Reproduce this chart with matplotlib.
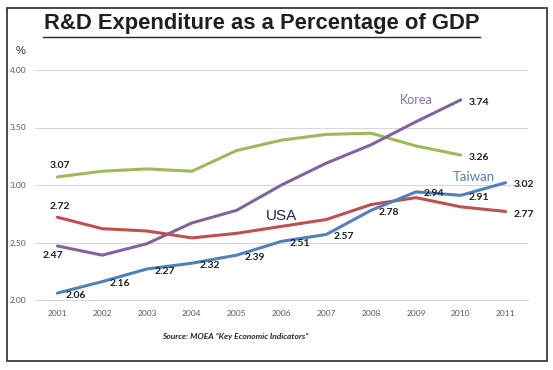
import matplotlib
matplotlib.use("Agg")
import matplotlib.pyplot as plt
from matplotlib.patches import Rectangle
from matplotlib.lines import Line2D
from matplotlib.font_manager import FontProperties

# data (percent of GDP)
years = [2001, 2002, 2003, 2004, 2005, 2006, 2007, 2008, 2009, 2010, 2011]
taiwan = [2.06, 2.16, 2.27, 2.32, 2.39, 2.51, 2.57, 2.78, 2.94, 2.91, 3.02]
usa = [2.72, 2.62, 2.60, 2.54, 2.58, 2.64, 2.70, 2.83, 2.89, 2.81, 2.77]
korea_years = years[:10]
korea = [2.47, 2.39, 2.49, 2.67, 2.78, 3.00, 3.19, 3.35, 3.55, 3.74]
green_years = years[:10]
green = [3.07, 3.12, 3.14, 3.12, 3.30, 3.39, 3.44, 3.45, 3.34, 3.26]
yticks = [2.00, 2.50, 3.00, 3.50, 4.00]

c_taiwan = '#4F81BD'
c_usa = '#C0504D'
c_korea = '#8064A2'
c_green = '#9BBB59'
label_col = '#1f1f1f'

fig = plt.figure(figsize=(5.53, 3.70), dpi=100)
fig.patch.set_facecolor('white')

# outer frame
fig.patches.append(Rectangle((7 / 553, 1 - 361 / 370), 540 / 553, 353 / 370,
                             transform=fig.transFigure, fill=False,
                             edgecolor='#3a3a3a', linewidth=1.3))

ax = fig.add_axes([35 / 553, 1 - 300 / 370, 493 / 553, 230 / 370])
ax.set_xlim(2000.5, 2011.5)
ax.set_ylim(2.0, 4.0)

lw = 2.2
ax.plot(green_years, green, color=c_green, linewidth=lw, solid_capstyle='round')
ax.plot(korea_years, korea, color=c_korea, linewidth=lw, solid_capstyle='round')
ax.plot(years, usa, color=c_usa, linewidth=lw, solid_capstyle='round')
ax.plot(years, taiwan, color=c_taiwan, linewidth=lw, solid_capstyle='round')

ax.set_yticks(yticks)
ax.set_yticklabels([f'{v:.2f}' for v in yticks])
ax.set_xticks(years)
ax.set_xticklabels([str(y) for y in years])
ax.tick_params(length=0, labelsize=6, labelcolor='#595959')
ax.tick_params(axis='y', pad=6)
ax.tick_params(axis='x', pad=7)
for t in ax.get_xticklabels() + ax.get_yticklabels():
    t.set_family('Lato')
ax.grid(axis='y', color='#D9D9D9', linewidth=0.8)
ax.set_axisbelow(True)
for s in ['top', 'right', 'left']:
    ax.spines[s].set_visible(False)
ax.spines['bottom'].set_color('#D9D9D9')
ax.spines['bottom'].set_linewidth(0.8)

lab_font = FontProperties(family='Lato', weight='bold', size=7.5)


def lab(x, y, dx, dy):
    ax.annotate(f'{y:.2f}', (x, y), xytext=(dx, dy), textcoords='offset points',
                ha='center', va='center', fontproperties=lab_font, color=label_col)


# Taiwan labels to the right of each point
for x, y in zip(years, taiwan):
    lab(x, y, 13, -1.5)
lab(years[-1], usa[-1], 13, -2.5)
lab(green_years[-1], green[-1], 13, -2)
lab(korea_years[-1], korea[-1], 13, -2)
lab(years[0], green[0], 2, 8.5)
lab(years[0], usa[0], 2, 8)
lab(years[0], korea[0], -3.5, -7)

ax.text(2009.0, 3.74, 'Korea', ha='center', va='center', fontsize=9,
        family='Lato', color='#8672A8')
ax.text(2010.3, 3.07, 'Taiwan', ha='center', va='center', fontsize=9.5,
        family='Lato', color=c_taiwan)
ax.text(2006.0, 2.73, 'USA', ha='center', va='center', fontsize=11,
        family='Liberation Sans', color='#1F2A44')

# title with underline
title_font = FontProperties(family='Liberation Sans', weight='bold', size=15.8)
fig.text(262 / 553, 1 - 24 / 370, 'R&D Expenditure as a Percentage of GDP',
         ha='center', va='center', fontproperties=title_font, color='#1f1f1f')
fig.lines.append(Line2D([43 / 553, 480 / 553], [1 - 37 / 370, 1 - 37 / 370],
                        transform=fig.transFigure, color='#262626', linewidth=1.0))

fig.text(21 / 553, 1 - 51 / 370, '%', ha='center', va='center', fontsize=8,
         family='Liberation Sans', color='#262626')

src_font = FontProperties(family='Lato', weight='bold', style='italic', size=6)
fig.text(235 / 553, 1 - 336 / 370, 'Source: MOEA \u201cKey Economic Indicators\u201d',
         ha='center', va='center', fontproperties=src_font, color='#262626')

fig.savefig('out.png', dpi=100)
